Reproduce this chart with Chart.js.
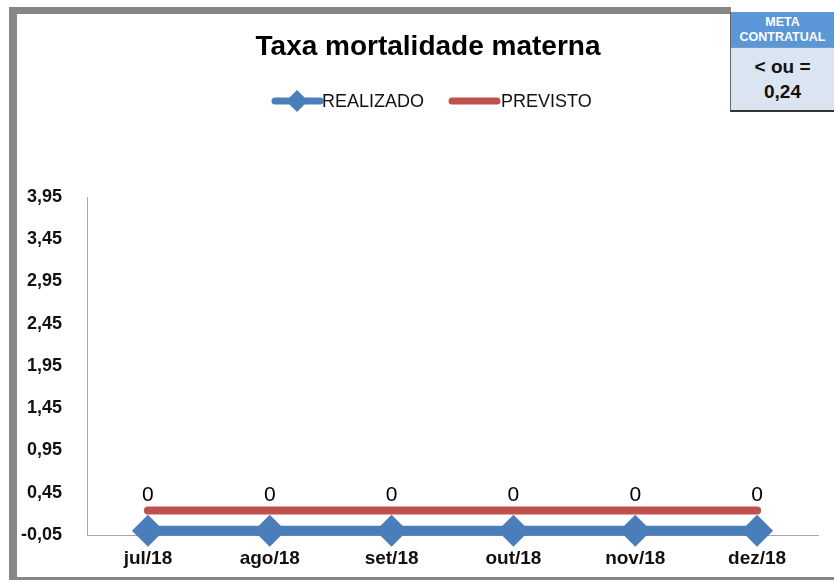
<!DOCTYPE html>
<html><head><meta charset="utf-8">
<script src="https://cdn.jsdelivr.net/npm/chart.js@4"></script>
<style>
html,body{margin:0;padding:0;background:#fff;}
#wrap{position:relative;width:834px;height:581px;overflow:hidden;font-family:"Liberation Sans",Arial,sans-serif;}
.bar{position:absolute;background:#878787;}
#cv{position:absolute;left:0;top:0;width:834px;height:581px;}
#box{position:absolute;left:730px;top:12px;width:104px;height:100px;border-left:1px solid #666;border-bottom:2px solid #333;box-sizing:border-box;}
#boxHead{height:36px;background:#5b96d6;color:#fff;font-weight:bold;font-size:12.5px;text-align:center;line-height:15px;padding-top:3px;box-sizing:border-box;border-bottom:1px solid #7a9cc4;}
#boxBody{height:62px;background:#dbe5f1;color:#111;font-weight:bold;font-size:19px;text-align:center;line-height:25px;padding-top:6px;box-sizing:border-box;}
</style></head>
<body>
<div id="wrap">
  <div class="bar" style="left:9px;top:7px;width:722px;height:7px;"></div>
  <div class="bar" style="left:9px;top:7px;width:8px;height:573px;"></div>
  <div class="bar" style="left:9px;top:577px;width:825px;height:3px;"></div>
  <div id="cv"><canvas id="c"></canvas></div>
  <div id="box"><div id="boxHead">META<br>CONTRATUAL</div><div id="boxBody">&lt; ou =<br>0,24</div></div>
</div>
<script>
const chartTitle = 'Taxa mortalidade materna';
const categories = ['jul/18','ago/18','set/18','out/18','nov/18','dez/18'];
const realizado = [0,0,0,0,0,0];
const previsto = [0.24,0.24,0.24,0.24,0.24,0.24];
const yTicks = [-0.05,0.45,0.95,1.45,1.95,2.45,2.95,3.45,3.95];
const seriesNames = ['REALIZADO','PREVISTO'];
const BLUE = '#4a7ebb', RED = '#c0504d';
const FONT = '"Liberation Sans", Arial, sans-serif';

const overlay = {
  id: 'overlay',
  afterDatasetsDraw(chart) {
    const ctx = chart.ctx;
    ctx.save();
    // data labels
    const meta = chart.getDatasetMeta(0);
    ctx.fillStyle = '#000';
    ctx.font = '21px ' + FONT;
    ctx.textAlign = 'center';
    ctx.textBaseline = 'middle';
    meta.data.forEach((pt, i) => {
      ctx.fillText(String(realizado[i]), pt.x, pt.y - 36);
    });
    // title
    ctx.font = 'bold 28px ' + FONT;
    ctx.fillStyle = '#000';
    ctx.fillText(chartTitle, 428, 47);
    // legend
    const ly = 101;
    ctx.lineCap = 'round';
    ctx.strokeStyle = BLUE; ctx.lineWidth = 7;
    ctx.beginPath(); ctx.moveTo(275, ly); ctx.lineTo(320, ly); ctx.stroke();
    ctx.fillStyle = BLUE;
    ctx.beginPath(); ctx.moveTo(297, ly-11); ctx.lineTo(308, ly); ctx.lineTo(297, ly+11); ctx.lineTo(286, ly); ctx.closePath(); ctx.fill();
    ctx.strokeStyle = RED; ctx.lineWidth = 7;
    ctx.beginPath(); ctx.moveTo(452, ly); ctx.lineTo(497, ly); ctx.stroke();
    ctx.fillStyle = '#111';
    ctx.font = '18px ' + FONT;
    ctx.textAlign = 'left';
    ctx.fillText(seriesNames[0], 322, ly + 1);
    ctx.fillText(seriesNames[1], 501, ly + 1);
    ctx.restore();
  }
};

new Chart(document.getElementById('c'), {
  type: 'line',
  data: {
    labels: categories,
    datasets: [
      { label: seriesNames[0], data: realizado, borderColor: BLUE, backgroundColor: BLUE, borderWidth: 10, pointStyle: 'rectRot', pointRadius: 16, pointHoverRadius: 16, pointBorderWidth: 0, pointBackgroundColor: BLUE, tension: 0, clip: false },
      { label: seriesNames[1], data: previsto, borderColor: RED, backgroundColor: RED, borderWidth: 8, borderCapStyle: 'round', pointRadius: 0, pointHoverRadius: 0, tension: 0, clip: false }
    ]
  },
  options: {
    responsive: true,
    maintainAspectRatio: false,
    animation: false,
    devicePixelRatio: 1,
    layout: { padding: { top: 197, right: 10, left: 0, bottom: 0 } },
    plugins: { legend: { display: false }, title: { display: false }, tooltip: { enabled: false } },
    scales: {
      x: {
        offset: true,
        grid: { display: false, drawTicks: false },
        border: { display: true, color: '#a6a6a6', width: 1 },
        ticks: { color: '#111', font: { family: FONT, size: 19, weight: 'bold' }, padding: 12, maxRotation: 0 },
        afterFit(s) { s.height = 46; }
      },
      y: {
        min: -0.05, max: 3.95,
        grid: { display: false, drawTicks: false },
        border: { display: true, color: '#a6a6a6', width: 1 },
        afterBuildTicks(s) { s.ticks = yTicks.map(v => ({ value: v })); },
        ticks: { color: '#111', font: { family: FONT, size: 18, weight: 'bold' }, padding: 25,
          callback: v => v.toFixed(2).replace('.', ',') },
        afterFit(s) { s.width = 87; }
      }
    }
  },
  plugins: [overlay]
});
</script>
</body></html>
